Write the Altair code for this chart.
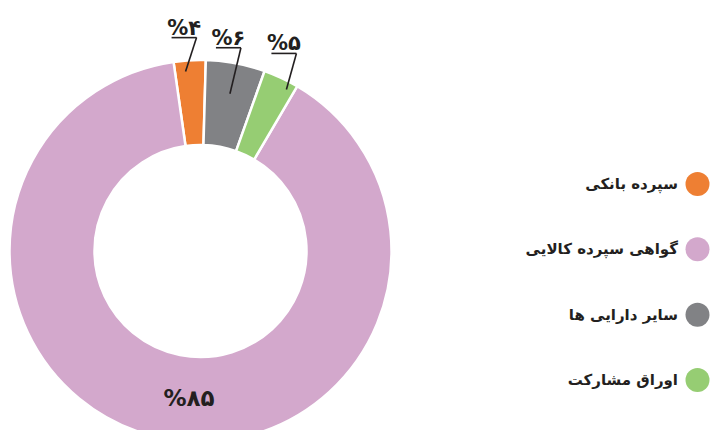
import math
import altair as alt
import pandas as pd

# ---- data ----
categories = ["سپرده بانکی", "گواهی سپرده کالایی", "سایر دارایی ها", "اوراق مشارکت"]
colors = ["#EE7F33", "#D3A8CC", "#818285", "#96CD73"]
shares = [2.7, 89.3, 5.0, 3.0]          # slice sizes as drawn
labels = ["%۴", "%۸۵", "%۶", "%۵"]      # printed labels
pie_order = [4, 3, 1, 2]                # clockwise order from the top

# ---- layout ----
W, H = 702, 422
CX, CY = 192.5, 243
R_OUT, R_IN = 191, 106
START_DEG = 1.6
FONT = "DejaVu Sans"
INK = "#231F20"

df = pd.DataFrame({"category": categories, "share": shares, "label": labels,
                   "ord": pie_order})

# mid angles (clockwise from 12 o'clock, degrees)
s = df.sort_values("ord")
cum = s["share"].cumsum()
mid = START_DEG + (cum - s["share"] / 2) * 3.6
df["mid"] = mid.reindex(df.index)

# leader-line layout per category (annotation styling)
lead = {
    "سپرده بانکی": dict(r=180, dx=11, rise=34, nudge=-1.5),
    "سایر دارایی ها": dict(r=160, dx=11, rise=46, nudge=0),
    "اوراق مشارکت": dict(r=183, dx=10, rise=36, nudge=3),
}
segs, tlabels = [], []
for _, row in df.iterrows():
    if row["category"] not in lead:
        continue
    L = lead[row["category"]]
    a = math.radians(row["mid"] + L["nudge"])
    ax, ay = CX + L["r"] * math.sin(a), CY - L["r"] * math.cos(a)
    ex, ey = ax + L["dx"], ay - L["rise"]
    segs.append(dict(x=ax, y=ay, x2=ex, y2=ey))
    segs.append(dict(x=ex - 25, y=ey, x2=ex, y2=ey))
    tlabels.append(dict(x=ex - 12.5, y=ey - 3, label=row["label"]))
seg_df = pd.DataFrame(segs)
tl_df = pd.DataFrame(tlabels)

big = df[df["category"] == "گواهی سپرده کالایی"].iloc[0]
a = math.radians(big["mid"] - 6.7)
big_df = pd.DataFrame([dict(x=CX + 148 * math.sin(a), y=CY - 148 * math.cos(a),
                            label=big["label"])])

xs = alt.Scale(domain=[0, W], range=[0, W], nice=False, zero=False)
ys = alt.Scale(domain=[0, H], range=[0, H], nice=False, zero=False)

start = math.radians(START_DEG)
arcs = alt.Chart(df).mark_arc(
    outerRadius=R_OUT, innerRadius=R_IN, stroke="white", strokeWidth=2.5
).encode(
    theta=alt.Theta("share:Q", stack=True,
                    scale=alt.Scale(range=[start, start + 2 * math.pi])),
    color=alt.Color("category:N", scale=alt.Scale(domain=categories, range=colors),
                    legend=None),
    order=alt.Order("ord:Q"),
    x=alt.value(CX),
    y=alt.value(CY),
)

rules = alt.Chart(seg_df).mark_rule(color=INK, strokeWidth=1.6).encode(
    x=alt.X("x:Q", scale=xs, axis=None),
    y=alt.Y("y:Q", scale=ys, axis=None),
    x2="x2:Q", y2="y2:Q",
)

small_txt = alt.Chart(tl_df).mark_text(
    font=FONT, fontSize=21, fontWeight="bold", color=INK,
    align="center", baseline="alphabetic"
).encode(
    x=alt.X("x:Q", scale=xs, axis=None),
    y=alt.Y("y:Q", scale=ys, axis=None),
    text="label:N",
)

big_txt = alt.Chart(big_df).mark_text(
    font=FONT, fontSize=23, fontWeight="bold", color=INK,
    align="center", baseline="middle"
).encode(
    x=alt.X("x:Q", scale=xs, axis=None),
    y=alt.Y("y:Q", scale=ys, axis=None),
    text="label:N",
)

leg_y = alt.Y("category:N", scale=alt.Scale(domain=categories, range=[176, 372],
                                            padding=0), axis=None)
leg_dots = alt.Chart(df).mark_circle(size=576, opacity=1).encode(
    x=alt.value(689.5),
    y=leg_y,
    color=alt.Color("category:N", scale=alt.Scale(domain=categories, range=colors),
                    legend=None),
)
leg_txt = alt.Chart(df).mark_text(
    font=FONT, fontSize=15, fontWeight="bold", color=INK,
    align="right", baseline="middle"
).encode(
    x=alt.value(670),
    y=leg_y,
    text="category:N",
)

chart = alt.layer(arcs, rules, small_txt, big_txt, leg_dots, leg_txt).resolve_scale(
    x="independent", y="independent"
).properties(
    width=W, height=H, padding=0,
    autosize=alt.AutoSizeParams(type="none"),
).configure_view(stroke=None)

chart.save("out.html", embed_options={"renderer": "svg", "actions": False})
